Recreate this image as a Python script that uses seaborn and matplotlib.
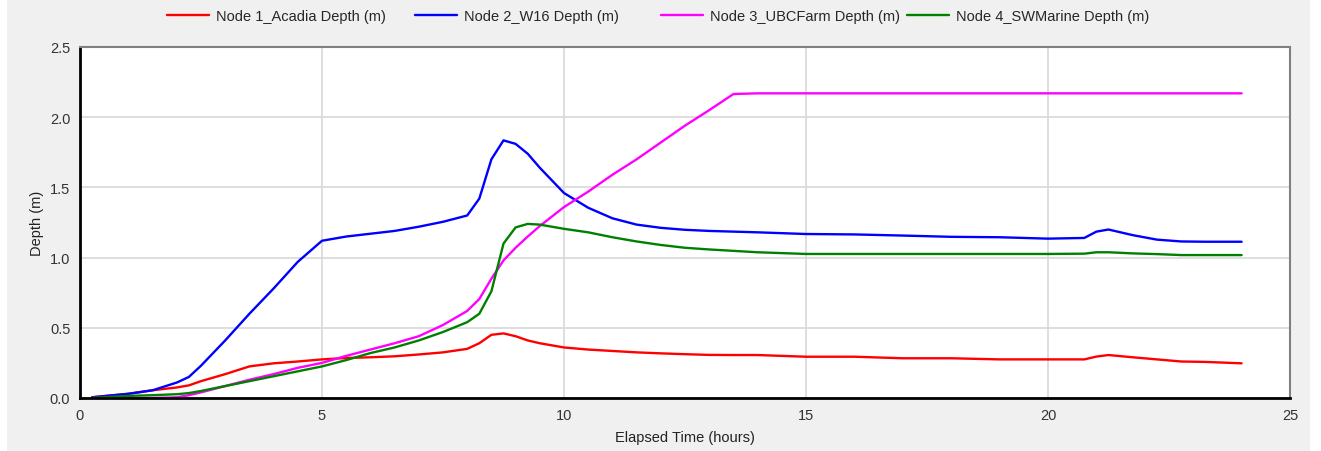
import numpy as np
import pandas as pd
import matplotlib
matplotlib.use("Agg")
import matplotlib.pyplot as plt
import seaborn as sns
from matplotlib.patches import Rectangle

# ---- data ----
time_h = [0.25, 1.0, 1.5, 2.0, 2.25, 2.5, 3.0, 3.5, 4.0, 4.5, 5.0, 5.5, 6.0, 6.5,
          7.0, 7.5, 8.0, 8.25, 8.5, 8.75, 9.0, 9.25, 9.5, 10.0, 10.5, 11.0, 11.5,
          12.0, 12.5, 13.0, 13.5, 14.0, 15.0, 16.0, 17.0, 18.0, 19.0, 20.0, 20.75,
          21.0, 21.25, 21.75, 22.25, 22.75, 23.25, 24.0]

node1_acadia = [0.005, 0.03, 0.055, 0.075, 0.09, 0.12, 0.17, 0.225, 0.247, 0.26, 0.275,
                0.285, 0.29, 0.297, 0.31, 0.325, 0.35, 0.39, 0.45, 0.46, 0.44, 0.41,
                0.39, 0.36, 0.345, 0.335, 0.325, 0.318, 0.312, 0.307, 0.306, 0.306,
                0.294, 0.294, 0.283, 0.283, 0.275, 0.275, 0.275, 0.295, 0.306, 0.29,
                0.275, 0.26, 0.257, 0.247]

node2_w16 = [0.005, 0.03, 0.055, 0.11, 0.15, 0.23, 0.41, 0.6, 0.78, 0.97, 1.12, 1.15,
             1.17, 1.19, 1.22, 1.255, 1.30, 1.42, 1.70, 1.835, 1.81, 1.74, 1.64, 1.46,
             1.355, 1.28, 1.235, 1.212, 1.198, 1.19, 1.185, 1.18, 1.168, 1.165, 1.157,
             1.148, 1.145, 1.135, 1.14, 1.185, 1.2, 1.16, 1.128, 1.115, 1.113, 1.113]

node3_ubcfarm = [0.0, 0.0, 0.0, 0.005, 0.02, 0.04, 0.085, 0.13, 0.17, 0.215, 0.25, 0.3,
                 0.345, 0.39, 0.44, 0.52, 0.62, 0.705, 0.85, 0.98, 1.07, 1.15, 1.225, 1.36,
                 1.47, 1.59, 1.70, 1.82, 1.94, 2.05, 2.165, 2.17, 2.17, 2.17, 2.17, 2.17,
                 2.17, 2.17, 2.17, 2.17, 2.17, 2.17, 2.17, 2.17, 2.17, 2.17]

node4_swmarine = [0.0, 0.015, 0.02, 0.027, 0.035, 0.05, 0.085, 0.12, 0.155, 0.19, 0.225,
                  0.27, 0.32, 0.36, 0.41, 0.47, 0.54, 0.6, 0.76, 1.1, 1.215, 1.24, 1.235,
                  1.205, 1.18, 1.145, 1.115, 1.09, 1.07, 1.058, 1.048, 1.038, 1.026, 1.026,
                  1.026, 1.026, 1.026, 1.026, 1.028, 1.038, 1.038, 1.03, 1.025, 1.018,
                  1.018, 1.018]

series_names = ["Node 1_Acadia Depth (m)", "Node 2_W16 Depth (m)",
                "Node 3_UBCFarm Depth (m)", "Node 4_SWMarine Depth (m)"]
series_colors = ["#ff0000", "#0000ff", "#ff00ff", "#008000"]
x_ticks = [0, 5, 10, 15, 20, 25]
y_ticks = [0.0, 0.5, 1.0, 1.5, 2.0, 2.5]

frames = []
for name, vals in zip(series_names, [node1_acadia, node2_w16, node3_ubcfarm, node4_swmarine]):
    frames.append(pd.DataFrame({"Elapsed Time (hours)": time_h, "Depth (m)": vals, "Series": name}))
df = pd.concat(frames, ignore_index=True)

# ---- plot ----
sns.set_style("white")
plt.rcParams["font.family"] = ["Liberation Sans", "DejaVu Sans"]

W, H = 1321, 452
fig = plt.figure(figsize=(W / 100, H / 100), dpi=100, facecolor="white")
fig.patches.append(Rectangle((7 / W, 0), (1310 - 7) / W, 1, transform=fig.transFigure,
                             facecolor="#f0f0f0", edgecolor="none", zorder=-10))
ax = fig.add_axes([80 / W, (H - 399) / H, (1290 - 80) / W, (399 - 48) / H])
ax.set_facecolor("white")

sns.lineplot(data=df, x="Elapsed Time (hours)", y="Depth (m)", hue="Series",
             hue_order=series_names, palette=series_colors, linewidth=1.7, ax=ax)

ax.set_xlim(0, 25)
ax.set_ylim(0, 2.5)
ax.set_xticks(x_ticks)
ax.set_yticks(y_ticks)
ax.set_xticklabels([str(t) for t in x_ticks])
ax.set_yticklabels([f"{t:.1f}" for t in y_ticks])
ax.grid(True, color="#d8d8d8", linewidth=1.2)
ax.set_axisbelow(True)

for s in ["left", "bottom"]:
    ax.spines[s].set_color("black")
    ax.spines[s].set_linewidth(2)
for s in ["top", "right"]:
    ax.spines[s].set_color("#808080")
    ax.spines[s].set_linewidth(1.5)

ax.tick_params(axis="both", which="major", direction="out", length=4, width=1,
               color="#999999", labelsize=10.5, labelcolor="#333333", pad=3)
ax.set_xlabel("Elapsed Time (hours)", fontsize=10.5, color="#222222", labelpad=6)
ax.set_ylabel("Depth (m)", fontsize=10.5, color="#222222", labelpad=4)

# legend: four entries at fixed column positions along the top
handles, labels = ax.get_legend_handles_labels()
ax.get_legend().remove()
entry_left_px = [167, 415, 661, 907]
for h, l, xpx in zip(handles, labels, entry_left_px):
    leg = fig.legend([h], [l], loc="center left", bbox_to_anchor=(xpx / W, 1 - 17 / H),
                     bbox_transform=fig.transFigure, frameon=False, fontsize=10.5,
                     handlelength=2.9, handletextpad=0.45, borderpad=0, borderaxespad=0)

fig.savefig("out.png", dpi=100, facecolor=fig.get_facecolor())
